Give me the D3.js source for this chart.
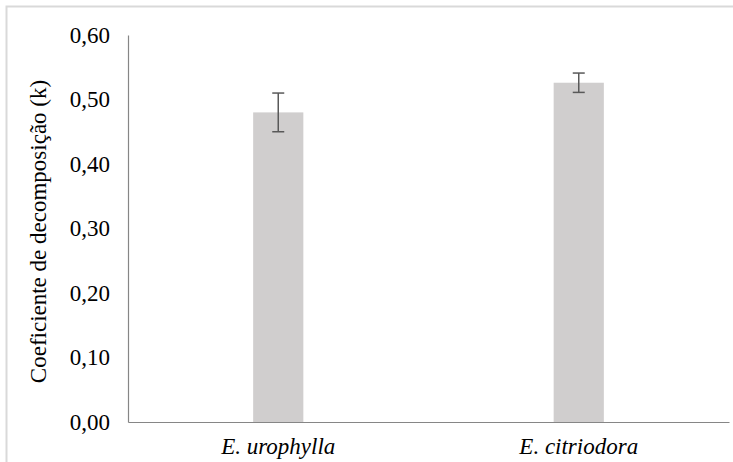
<!DOCTYPE html>
<html><head><meta charset="utf-8">
<script src="https://cdn.jsdelivr.net/npm/d3@7"></script>
<style>html,body{margin:0;padding:0;background:#fff;}svg{display:block;}</style>
</head><body>
<script>
const categories = ["E. urophylla", "E. citriodora"];
const values = [0.48, 0.526];
const errors = [0.030, 0.015];
const yTicks = [0, 0.1, 0.2, 0.3, 0.4, 0.5, 0.6];
const yTitle = "Coeficiente de decomposição (k)";

const W = 733, H = 462;
const FONT = "Liberation Serif";
const FS = 23;
const svg = d3.select("body").append("svg").attr("width", W).attr("height", H);
svg.append("rect").attr("x", 6.5).attr("y", 6.5).attr("width", W + 10).attr("height", H + 10)
  .attr("fill", "#fff").attr("stroke", "#d9d9d9").attr("stroke-width", 2);

const m = {left: 128, right: 729, top: 35, bottom: 422};
const x = d3.scaleBand().domain(categories).range([m.left, m.right]).paddingInner(0.833).paddingOuter(0.4165);
const y = d3.scaleLinear().domain([0, 0.6]).range([m.bottom, m.top]);
const fmt = d => d3.format(".2f")(d).replace(".", ",");

// y axis
const ya = svg.append("g").attr("transform", `translate(${m.left},0)`)
  .call(d3.axisLeft(y).tickValues(yTicks).tickFormat(fmt).tickSize(0).tickPadding(18))
  .attr("font-family", FONT).attr("font-size", FS);
ya.select(".domain").attr("stroke", "#868686").attr("stroke-width", 1.2);
ya.selectAll("text").attr("font-family", FONT).attr("font-size", FS).attr("fill", "#000");

// bars
svg.append("g").selectAll("rect").data(categories).join("rect")
  .attr("x", d => x(d)).attr("width", x.bandwidth())
  .attr("y", (d, i) => y(values[i])).attr("height", (d, i) => y(0) - y(values[i]))
  .attr("fill", "#d0cece");

// x axis
const xa = svg.append("g").attr("transform", `translate(0,${m.bottom})`)
  .call(d3.axisBottom(x).tickSize(0).tickPadding(16))
  .attr("font-family", FONT).attr("font-size", FS);
xa.select(".domain").attr("stroke", "#868686").attr("stroke-width", 1.2);
xa.selectAll("text").attr("font-family", FONT).attr("font-size", FS).attr("font-style", "italic").attr("fill", "#000");

// error bars
const eb = svg.append("g").attr("stroke", "#595959").attr("stroke-width", 1.5);
categories.forEach((c, i) => {
  const cx = x(c) + x.bandwidth() / 2;
  eb.append("line").attr("x1", cx).attr("x2", cx).attr("y1", y(values[i] + errors[i])).attr("y2", y(values[i] - errors[i]));
  [values[i] + errors[i], values[i] - errors[i]].forEach(v => {
    eb.append("line").attr("x1", cx - 6).attr("x2", cx + 6).attr("y1", y(v)).attr("y2", y(v));
  });
});

// y title
svg.append("text").attr("transform", `translate(46,${(m.top + m.bottom) / 2 + 3}) rotate(-90)`)
  .attr("text-anchor", "middle").attr("font-family", FONT).attr("font-size", FS).attr("fill", "#000")
  .text(yTitle);
</script>
</body></html>
